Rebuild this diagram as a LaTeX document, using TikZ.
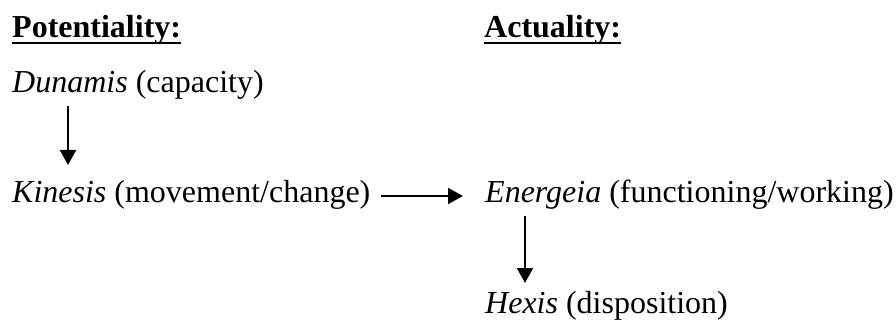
\documentclass[tikz,border=0pt]{standalone}
\usepackage{fontspec}
\setmainfont{Liberation Serif}
\usetikzlibrary{arrows.meta}

\begin{document}
\begin{tikzpicture}[x=1pt,y=-1pt,
  txt/.style={anchor=base west,inner sep=0pt,font=\fontsize{32}{38}\selectfont},
  arr/.style={-{Triangle[length=15pt,width=16pt]},line width=2pt}]
\useasboundingbox (0,0) rectangle (896,320);
\node[txt] (pot) at (12,38) {\textbf{Potentiality:}};
\node[txt] (act) at (484,38) {\textbf{Actuality:}};
\draw[line width=2pt] ([yshift=-5pt]pot.base west) -- ([yshift=-5pt]pot.base east);
\draw[line width=2pt] ([yshift=-5pt]act.base west) -- ([yshift=-5pt]act.base east);
\node[txt] (dun) at (12,93) {\textit{Dunamis} (capacity)};
\node[txt] (kin) at (12,203) {\textit{Kinesis} (movement/change)};
\node[txt] (ene) at (485,203) {\textit{Energeia} (functioning/working)};
\node[txt] (hex) at (485,313) {\textit{Hexis} (disposition)};
\draw[arr] ([xshift=56pt,yshift=-13pt]dun.base west) -- ([xshift=56pt,yshift=38pt]kin.base west);
\draw[arr] ([xshift=10pt,yshift=7pt]kin.base east) -- ([xshift=-22pt,yshift=7pt]ene.base west);
\draw[arr] ([xshift=40pt,yshift=-13pt]ene.base west) -- ([xshift=40pt,yshift=30pt]hex.base west);
\end{tikzpicture}
\end{document}
